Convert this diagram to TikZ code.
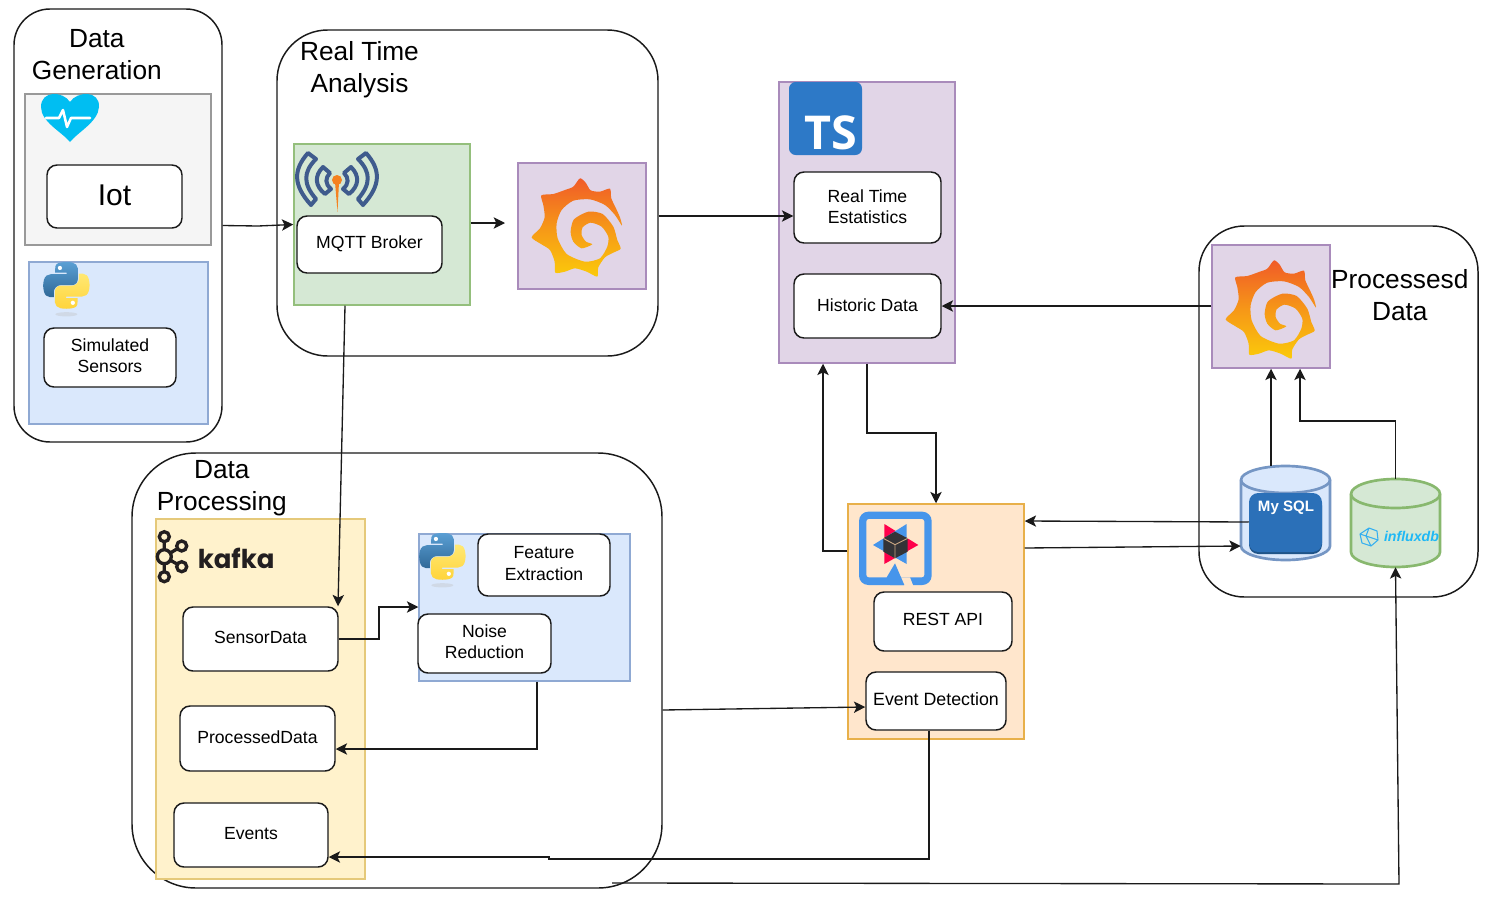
\documentclass[tikz,border=0pt]{standalone}
\usepackage{fontspec}
\usetikzlibrary{arrows.meta,calc}
\setmainfont{Liberation Sans}
\newfontfamily\kafkafont{Poppins}
\newfontfamily\tsfont{Open Sans}
\definecolor{ink}{HTML}{1A1A1A}
\definecolor{grayF}{HTML}{F5F5F5}\definecolor{grayS}{HTML}{999999}
\definecolor{blueF}{HTML}{DAE8FC}\definecolor{blueS}{HTML}{8FA9D3}
\definecolor{greenF}{HTML}{D5E8D4}\definecolor{greenS}{HTML}{94BF7C}
\definecolor{purpF}{HTML}{E1D5E7}\definecolor{purpS}{HTML}{A98BBB}
\definecolor{yelF}{HTML}{FFF2CC}\definecolor{yelS}{HTML}{E5C97A}
\definecolor{oraF}{HTML}{FFE6CC}\definecolor{oraS}{HTML}{E8B04A}
\definecolor{cylS}{HTML}{7596C4}
\definecolor{cylG}{HTML}{88B86E}
\definecolor{mqblue}{HTML}{3F5B8D}\definecolor{mqor}{HTML}{F58220}
\definecolor{qblue}{HTML}{4695EB}\definecolor{qred}{HTML}{FF004A}
\definecolor{gtop}{HTML}{F05A28}\definecolor{gbot}{HTML}{FBCA0A}
\definecolor{heart}{HTML}{00BEF2}
\definecolor{tsblue}{HTML}{2D79C7}
\definecolor{sqlblue}{HTML}{2B70B8}\definecolor{sqldark}{HTML}{1F5488}
\definecolor{influxc}{HTML}{1FB8F5}
\definecolor{pyba}{HTML}{5A9FD4}\definecolor{pybb}{HTML}{306998}
\definecolor{pyya}{HTML}{FFE873}\definecolor{pyyb}{HTML}{FFD43B}
\definecolor{kafkac}{HTML}{231F20}
\tikzset{
 x=0.75pt,y=-0.75pt,
 group/.style={draw=ink,line width=1.1pt,fill=white,rounded corners=#1},
 group/.default=30pt,
 panel/.style 2 args={draw=#2,fill=#1,line width=1.1pt},
 card/.style={draw=ink,line width=1.1pt,fill=white,rounded corners=7.5pt,font=\fontsize{13.2}{16.2}\selectfont},
 title/.style={align=center,font=\fontsize{19.7}{24}\selectfont,inner sep=0pt},
 conn/.style={draw=ink,line width=1pt,-{Stealth[length=8.5pt,width=8.5pt,inset=2pt]}},
}
\newcommand\tshift{0pt}
\newcommand\bx[7]{\node[#6,minimum width={(#4-#2)*0.75pt},minimum height={(#5-#3)*0.75pt},inner sep=0pt] (#1) at ({(#2+#4)/2},{(#3+#5)/2}) {\raisebox{\tshift}[\height][\depth]{\begin{tabular}{@{}c@{}}#7\end{tabular}}};}
\newcommand\pypath{(54.9,0) .. controls (50.3,0) and (45.9,.4) .. (42.1,1.1) .. controls (30.8,3.1) and (28.8,7.3) .. (28.8,15) -- (28.8,25.2) -- (55.4,25.2) -- (55.4,28.6) -- (18.8,28.6) .. controls (11.1,28.6) and (4.3,33.3) .. (2.2,42.1) .. controls (-.2,52.2) and (-.3,58.6) .. (2.2,69.1) .. controls (4.1,76.9) and (8.6,82.6) .. (16.3,82.6) -- (25.4,82.6) -- (25.4,70.9) .. controls (25.4,62.1) and (33,54.3) .. (42,54.3) -- (68.6,54.3) .. controls (76,54.3) and (81.9,48.2) .. (81.9,40.8) -- (81.9,15) .. controls (81.9,7.8) and (75.8,2.4) .. (68.6,1.1) .. controls (64.2,.4) and (59.6,0) .. (54.9,0) -- cycle}
\newcommand\pylogo[2]{\begin{scope}[shift={(#1,#2)},scale=.425]
 \fill[black!25,opacity=.35] (55,123) ellipse [x radius=26,y radius=5];
 \shade[top color=pyya,bottom color=pyyb,rotate around={180:(55,55)}] \pypath;
 \fill[white,rotate around={180:(55,55)}] (39.8,14) circle [radius=5];
 \shade[top color=pyba,bottom color=pybb,shading angle=0] \pypath;
 \fill[white] (39.8,14) circle [radius=5];
\end{scope}}
\newcommand\grafana[2]{\begin{scope}[shift={(#1,#2)},scale=.3333]
 \shade[top color=gtop,bottom color=gbot,middle color=gtop!45!gbot] plot[smooth cycle,tension=.42] coordinates {
 (900,145)(917,158)(932,181)(960,185)(990,176)(994,205)(1008,235)(1020,262)(1026,287)
 (1005,255)(975,225)(930,208)(880,212)(845,240)(830,280)(833,325)(860,372)(915,395)(960,385)
 (982,350)(985,320)(965,290)(932,278)(908,292)(905,315)(918,335)(937,343)
 (905,355)(880,335)(872,305)(882,268)(925,245)(968,252)(1000,290)(1012,330)(1022,356)
 (1000,368)(975,382)(955,412)(952,440)(920,425)(885,415)(855,425)(826,428)(824,395)(810,360)(783,342)(755,322)(780,295)(794,262)(790,225)(784,196)(820,192)(855,180)(880,170)};
\end{scope}}
\begin{document}
\begin{tikzpicture}
\useasboundingbox[fill=white] (0,0) rectangle (1488,921);
% groups
\bx{gen}{14}{9}{222}{442}{group=27pt}{}
\bx{rt}{277}{30}{658}{356}{group=38pt}{}
\bx{dp}{132}{453}{662}{888}{group=48pt}{}
\bx{pd}{1199}{226}{1478}{597}{group=34pt}{}
% panels
\bx{iotp}{25}{94}{211}{245}{panel={grayF}{grayS}}{}
\bx{simp}{29}{262}{208}{424}{panel={blueF}{blueS}}{}
\bx{green}{294}{144}{470}{305}{panel={greenF}{greenS}}{}
\bx{grafa}{518}{163}{646}{289}{panel={purpF}{purpS}}{}
\bx{tsbox}{779}{82}{955}{363}{panel={purpF}{purpS}}{}
\bx{grafb}{1212}{245}{1330}{368}{panel={purpF}{purpS}}{}
\bx{yellow}{156}{519}{365}{879}{panel={yelF}{yelS}}{}
\bx{blue2}{419}{534}{630}{681}{panel={blueF}{blueS}}{}
\bx{orange}{848}{504}{1024}{739}{panel={oraF}{oraS}}{}
% cards
\renewcommand\tshift{-1.2pt}
\bx{iot}{47}{165}{182}{228}{card,font=\fontsize{22.5}{26}\selectfont}{Iot}
\renewcommand\tshift{-0.75pt}
\bx{rte}{794}{172}{941}{243}{card}{Real Time\\Estatistics}
\bx{hist}{794}{274}{941}{338}{card}{Historic Data}
\bx{processed}{180}{706}{335}{771}{card}{ProcessedData}
\renewcommand\tshift{0pt}
\bx{sim}{44}{328}{176}{387}{card}{Simulated\\Sensors}
\bx{mqtt}{297}{216}{442}{273}{card}{MQTT Broker}
\bx{sensor}{183}{607}{338}{671}{card}{SensorData}
\bx{events}{174}{803}{328}{867}{card}{Events}
\bx{feature}{478}{534}{610}{596}{card}{Feature\\Extraction}
\bx{noise}{418}{614}{551}{673}{card}{Noise\\Reduction}
\bx{rest}{874}{592}{1012}{651}{card}{REST API}
\bx{event}{866}{672}{1006}{730}{card,font=\fontsize{13.35}{16}\selectfont}{Event Detection}
% titles
\node[title] (tgen) at (96.8,54.5) {Data\\Generation};
\node[title] (trt) at (359.5,69.5) {Real Time\\Analysis};
\node[title] (tdp) at (221.8,488.5) {Data\\Processing};
\node[title] (tpd) at (1399.8,295) {Processesd\\Data};
% cylinders
\fill[blueF,draw=cylS,line width=2pt] (1241,480) -- (1241,546) arc[start angle=180,end angle=0,x radius=44.5,y radius=14] -- (1330,480) arc[start angle=0,end angle=-180,x radius=44.5,y radius=14] -- cycle;
\draw[cylS,line width=2pt] (1241,480) arc[start angle=180,end angle=0,x radius=44.5,y radius=13];
\bx{mysql}{1241}{466}{1330}{560}{draw=none}{}
\fill[sqldark,rounded corners=7pt] (1249,496) rectangle (1322,554);
\bx{mysqlin}{1249}{493}{1322}{552}{fill=sqlblue,rounded corners=7pt}{}
\node[inner sep=0pt,text=white,font=\fontsize{11.3}{13}\selectfont\bfseries] (mysqlt) at (1286,507.5) {My SQL};
\fill[greenF,draw=cylG,line width=2pt] (1351,494) -- (1351,552) arc[start angle=180,end angle=0,x radius=44.5,y radius=15] -- (1440,494) arc[start angle=0,end angle=-180,x radius=44.5,y radius=15] -- cycle;
\draw[cylG,line width=2pt] (1351,494) arc[start angle=180,end angle=0,x radius=44.5,y radius=14];
\bx{influx}{1351}{479}{1440}{567}{draw=none}{}
\node[inner sep=0pt,text=influxc,font=\fontsize{10.6}{13}\selectfont\bfseries\itshape] (influxt) at (1411.5,536) {influxdb};
\draw[qblue!75!cyan,line width=.8pt,line join=round] (1369,528) -- (1377,531) -- (1378,540) -- (1371,546) -- (1362,543) -- (1360,534) -- cycle (1369,528) -- (1366,536) -- (1378,540) (1366,536) -- (1371,546) (1366,536) -- (1360,534);
% connectors
\coordinate (grafin) at (505,223);
\coordinate (dpout) at (612,883);
\draw[conn] (gen.east) -- (258,226) -- (green.west);
\draw[conn] (green.east |- grafin) -- (grafin);
\draw[conn] (rt.east |- 0,216) -- (rte.west |- 0,216);
\draw[conn] (grafb.west |- hist.east) -- (hist.east);
\draw[conn] (tsbox.south) -- (867,433) -| (orange.north);
\draw[conn] (orange.west |- 0,551) -- (823,551) -- (tsbox.south -| 823,0);
\draw[conn] (mysqlin.west |- 0,522) -- (orange.east |- 0,521);
\draw[conn] (orange.east |- 0,548) -- (mysql.west |- 0,546);
\draw[conn] (mysql.north -| grafb.south) -- (grafb.south);
\draw[conn] (influx.north) -- (1395.5,421) -- (1300,421) -- (grafb.south -| 1300,0);
\draw[conn] (green.south -| 345,0) -- (sensor.north -| 338,0);
\draw[conn] (sensor.east) -- (379,639) -- (379,607) -- (blue2.west |- 0,607);
\draw[conn] (blue2.south -| 537,0) -- (537,749) -- (processed.east |- 0,749);
\draw[conn] (dp.east |- 0,710) -- (event.west |- 0,707);
\draw[conn] (event.south -| 929,0) -- (929,859) -- (549,859) -- (549,857) -- (events.east |- 0,857);
\draw[conn] (dpout) -- (1399,884) -- (influx.south);
% heart
\fill[heart] (70,142) .. controls (62,132) and (41,122) .. (41,107) .. controls (41,90) and (63,91) .. (70,102) .. controls (77,91) and (100,90) .. (99,107) .. controls (98,122) and (78,132) .. (70,142) -- cycle;
\draw[white,line width=1.9pt,line join=round,line cap=round] (46,118) -- (59,118) -- (63,110) -- (67,127) -- (71,118) -- (90,118);
% python
\pylogo{43}{262}
\pylogo{419}{533}
% grafana
\grafana{280}{130}
\grafana{974}{212}
% mqtt antenna
\begin{scope}[line width=3pt,mqblue,line join=round]
\draw (308,153) .. controls (293,170) and (293,185) .. (311,205) -- (316,199) .. controls (303,184) and (303,172) .. (316,159) -- cycle;
\draw (366,153) .. controls (381,170) and (381,185) .. (363,205) -- (358,199) .. controls (371,184) and (371,172) .. (358,159) -- cycle;
\draw (323,167) .. controls (314,176) and (315,186) .. (325,194) -- (331,189) .. controls (325,184) and (325,178) .. (330,173) -- cycle;
\draw (351,167) .. controls (360,176) and (359,186) .. (349,194) -- (343,189) .. controls (349,184) and (349,178) .. (344,173) -- cycle;
\end{scope}
\fill[mqor] (337,180) circle [radius=5];
\fill[mqor] (335,182) -- (339,182) -- (337.5,212) -- cycle;
% ts
\fill[tsblue,rounded corners=5pt] (789,82) rectangle (862,155);
\node[inner sep=0pt,anchor=base,text=white,font=\fontsize{35}{35}\selectfont\tsfont\bfseries] (tslabel) at (831,149) {TS};
% kafka
\begin{scope}[draw=kafkac,line width=2.5pt]
\draw (164.3,536.7) -- (164.3,576.7) (164.3,556.7) -- (181.7,546) (164.3,556.7) -- (181.7,566.7);
\foreach \cx/\cy/\cr in {164.3/536.7/5,164.3/556.7/7,164.3/576.7/5,181.7/546/5,181.7/566.7/5}
 \filldraw[fill=yelF] (\cx,\cy) circle [radius=\cr];
\end{scope}
\node[inner sep=0pt,anchor=base west,text=kafkac,font=\fontsize{19.5}{24}\selectfont\kafkafont\bfseries] (kafkalabel) at (197.5,568) {kafka};
% quarkus
\begin{scope}[shift={(845,500)},scale=.3333]
\fill[qblue,rounded corners=7pt] (42,35) rectangle (260,255);
\fill[oraF,rounded corners=2pt] (64,57) rectangle (238,232);
\fill[oraF] (178,232) -- (163,232) -- (178,258) -- (205,258) -- (195,232) -- cycle;
\fill[qblue] (150,190) -- (125,232) -- (135,255) -- (178,255) -- cycle;
\fill[qred] (118,72) -- (220,135) -- (118,192) -- cycle;
\fill[qblue] (185,72) -- (84,135) -- (185,192) -- cycle;
\fill[black!90!cyan] (150,95) -- (188,115) -- (188,155) -- (150,175) -- (115,155) -- (115,115) -- cycle;
\draw[orange!40!gray!70!white,line width=.7pt] (150,134) -- (115,115) (150,134) -- (188,115) (150,134) -- (150,175);
\end{scope}
\end{tikzpicture}
\end{document}
